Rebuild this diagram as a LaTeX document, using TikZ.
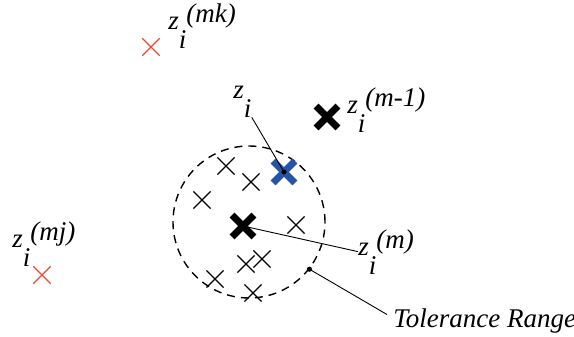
\documentclass[tikz,border=0pt]{standalone}
\usepackage{fontspec}
\setmainfont{Liberation Serif}
\usepackage{xcolor}
\usetikzlibrary{shapes.misc}
\definecolor{markred}{RGB}{236,72,52}
\definecolor{markblue}{RGB}{38,84,166}
\newcommand{\zlab}[1]{\textit{z}\raisebox{-9.5pt}{\textit{i}}\raisebox{3.5pt}{\textit{(#1)}}}

\begin{document}
\begin{tikzpicture}[x=0.5pt,y=-0.5pt,
      lbl/.style={inner sep=0pt,anchor=base west,
                  font=\fontsize{13.5}{15}\selectfont\itshape},
      thinx/.style={cross out,draw,minimum size=8pt,inner sep=0pt,
                    line width=0.6pt},
      boldx/.style={cross out,draw,minimum size=7.5pt,inner sep=0pt,
                    line width=3.4pt},
      redx/.style={thinx,draw=markred,line width=0.7pt},
      lead/.style={line width=0.45pt}]
    \useasboundingbox (0,0) rectangle (574,337);

    \node[draw,dashed,dash pattern=on 4pt off 3pt,line width=0.7pt,
          circle,minimum size=76pt,inner sep=0pt] (tol) at (249,222) {};
    \foreach \p [count=\k] in {(226,166),(251,182),(202,200),(296,225),
        (246,264),(262,259),(215,279),(253,293)}
      \node[thinx] (x\k) at \p {};

    \node[redx] (xmk) at (151,47) {};
    \node[redx] (xmj) at (42,275) {};
    \node[boldx] (xprev) at (327,117) {};
    \node[boldx,draw=markblue] (xblue) at (284,172) {};
    \node[boldx] (xcur) at (243,226) {};

    \node[lbl] (lmk) at (168,29) {\zlab{mk}};
    \node[lbl] (lmj) at (12,247) {\zlab{mj}};
    \node[lbl] (lprev) at (347,113) {\zlab{m-1}};
    \node[lbl] (lblue) at (233,98) {\textit{z}\raisebox{-9.5pt}{\textit{i}}};
    \node[lbl] (lcur) at (358,255) {\zlab{m}};
    \node[lbl] (ltol) at (393,327) {Tolerance Range};

    \draw[lead] (lblue.south east) -- (xblue.center);
    \fill (xblue.center) circle (1.3pt);
    \draw[lead] (xcur.center) -- (lcur.west);
    \draw[lead] (tol.-38) -- ([xshift=-3pt,yshift=3pt]ltol.west);
    \fill (tol.-38) circle (1.3pt);
  \end{tikzpicture}
\end{document}
